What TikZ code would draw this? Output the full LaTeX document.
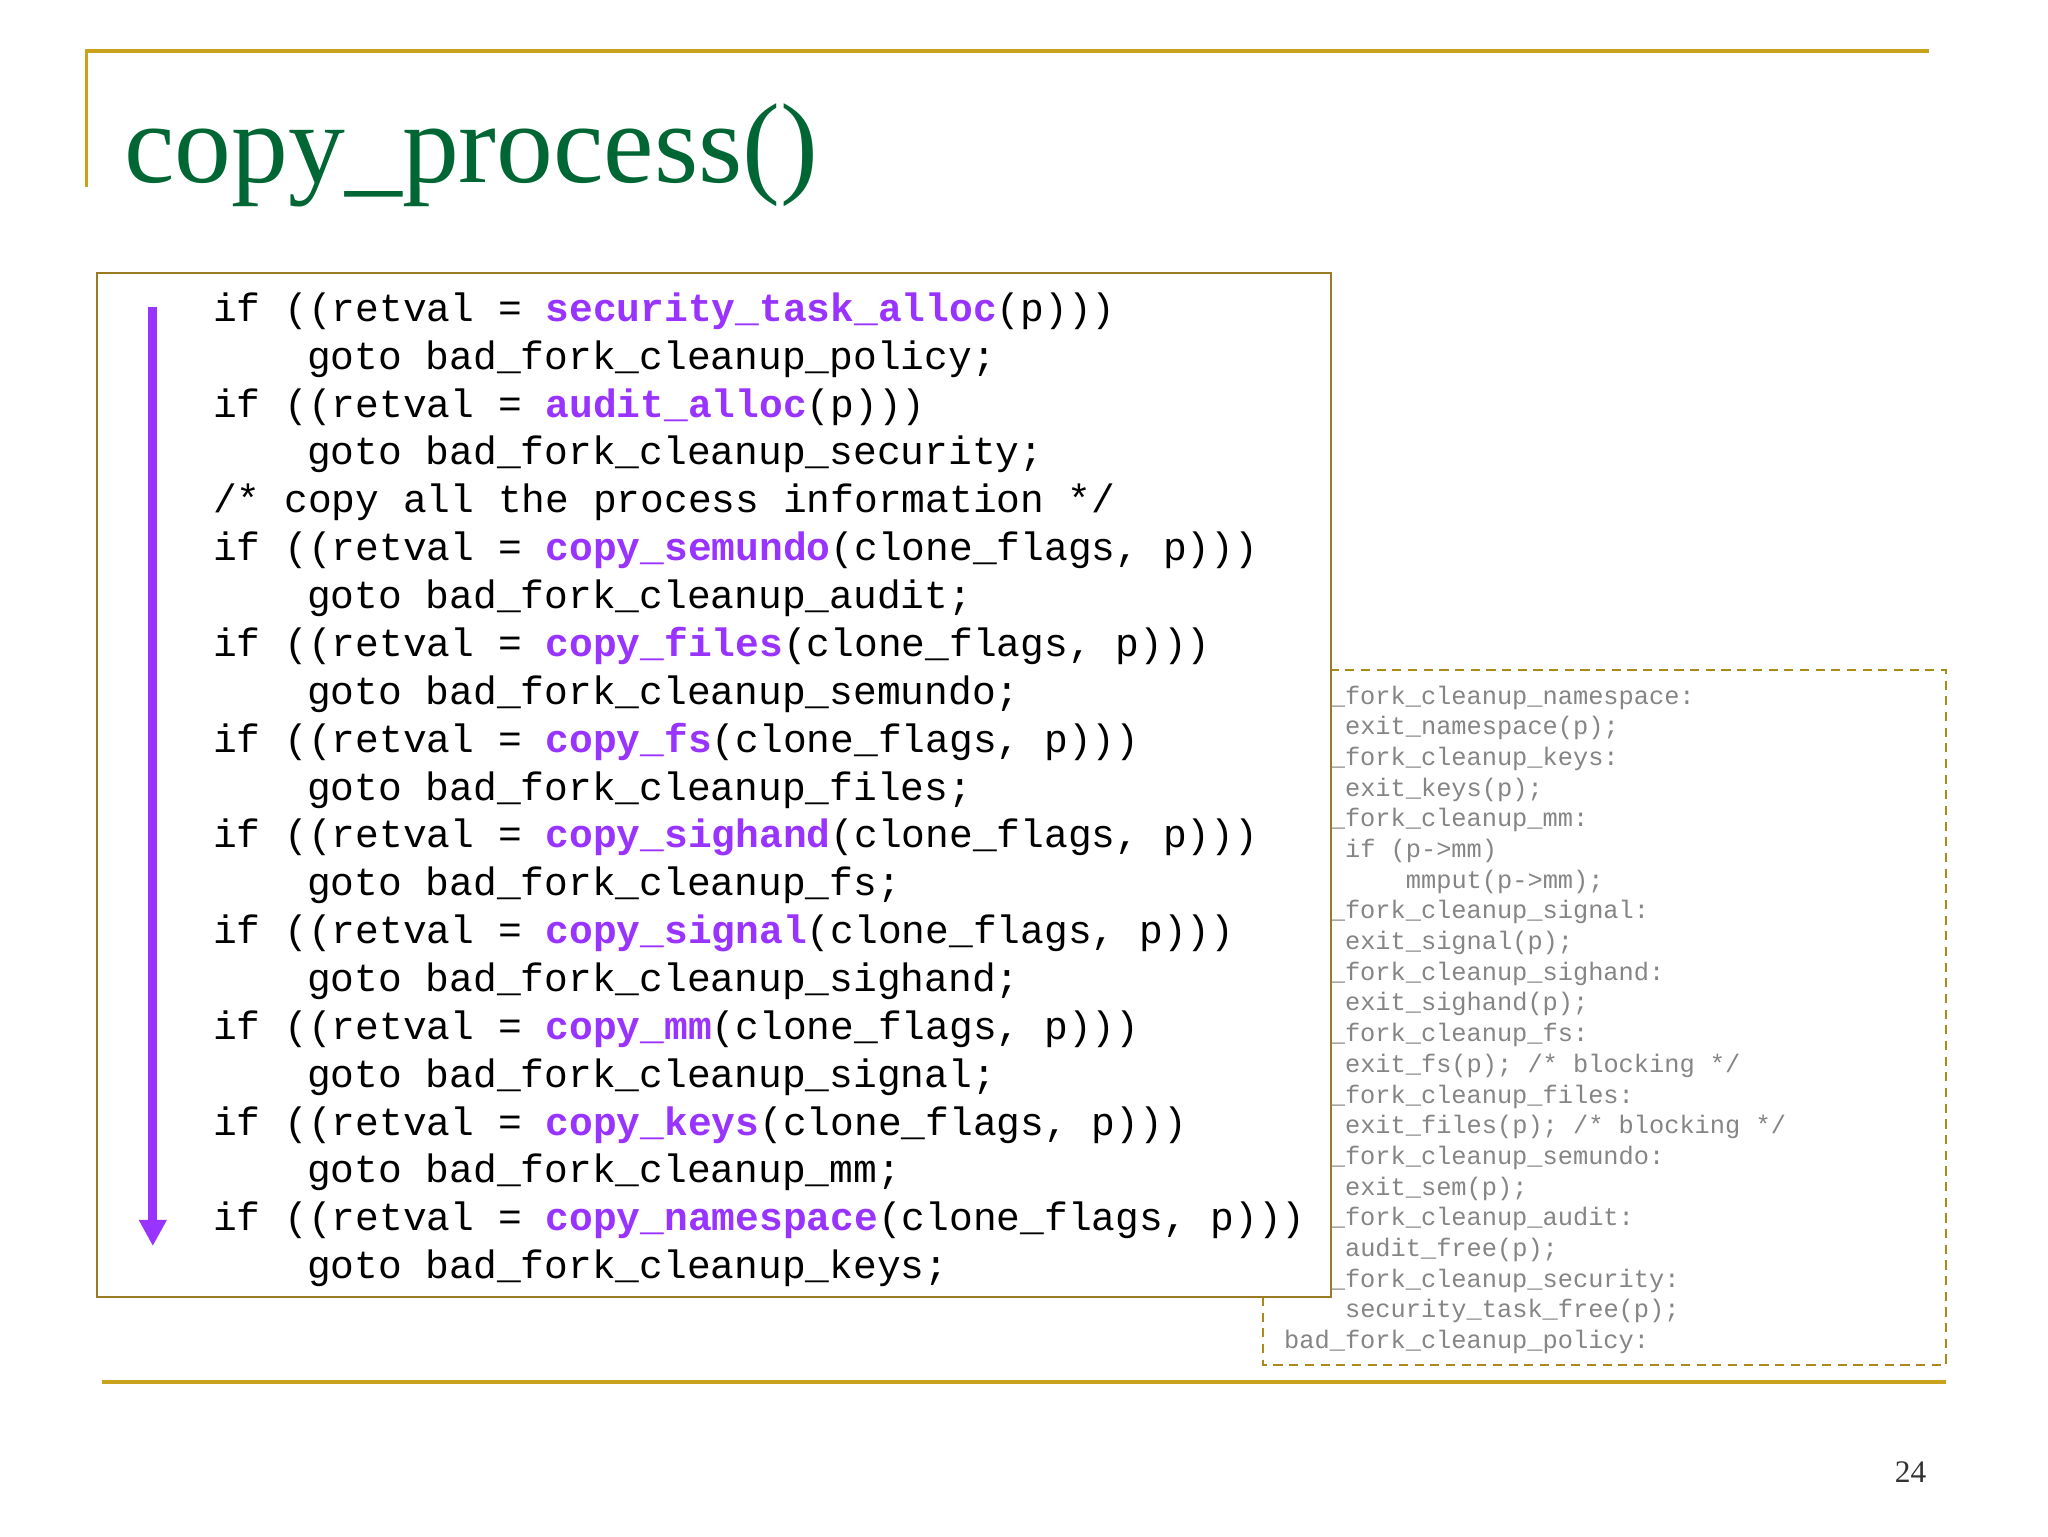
\documentclass[tikz,border=0pt]{standalone}
\usepackage{fontspec}
\setmainfont{Liberation Serif}
\setmonofont{Liberation Mono}
\usetikzlibrary{arrows.meta}
\definecolor{gold}{HTML}{C9A21E}
\definecolor{boxbrown}{HTML}{9C7A22}
\definecolor{titlegreen}{HTML}{006633}
\definecolor{fnc}{HTML}{9933FF}
\definecolor{greytxt}{HTML}{858585}
\newcommand\fn[1]{\textcolor{fnc}{\textbf{#1}}}
\tikzset{
  code/.style={anchor=base west,inner sep=0pt,font=\fontsize{30.3}{30.3}\ttfamily},
  small/.style={anchor=base west,inner sep=0pt,text=greytxt,font=\fontsize{19.4}{19.4}\ttfamily},
}
\begin{document}
\begin{tikzpicture}[x=1pt,y=-1pt]
\useasboundingbox (0,0) rectangle (1568,1176);
% frame lines
\draw[gold,line width=2.5pt] (66,143) -- (66,39) -- (1477,39);
\draw[gold,line width=3.5pt] (78,1058) -- (1490,1058);
\node[anchor=base west,inner sep=0pt,text=titlegreen,font=\fontsize{87}{87}\selectfont] (title) at (95,140) {copy\_process()};
\node[anchor=base east,inner sep=0pt,font=\fontsize{24}{24}\selectfont,text=black!80] (pg) at (1475,1135) {24};
% dashed cleanup box
\draw[gold!85!black,line width=1.5pt,dash pattern=on 7pt off 5pt] (967,513) rectangle (1490,1045);
\foreach \ind/\t [count=\i from 0] in {
 0/{bad\_fork\_cleanup\_namespace:},1/{exit\_namespace(p);},
 0/{bad\_fork\_cleanup\_keys:},1/{exit\_keys(p);},
 0/{bad\_fork\_cleanup\_mm:},1/{if (p->mm)},2/{mmput(p->mm);},
 0/{bad\_fork\_cleanup\_signal:},1/{exit\_signal(p);},
 0/{bad\_fork\_cleanup\_sighand:},1/{exit\_sighand(p);},
 0/{bad\_fork\_cleanup\_fs:},1/{exit\_fs(p); /* blocking */},
 0/{bad\_fork\_cleanup\_files:},1/{exit\_files(p); /* blocking */},
 0/{bad\_fork\_cleanup\_semundo:},1/{exit\_sem(p);},
 0/{bad\_fork\_cleanup\_audit:},1/{audit\_free(p);},
 0/{bad\_fork\_cleanup\_security:},1/{security\_task\_free(p);},
 0/{bad\_fork\_cleanup\_policy:}}
 { \node[small] (r\i) at ({983+46.6*\ind},{539+23.5*\i}) {\t}; }
% main code box
\draw[boxbrown,line width=1.3pt,fill=white] (74,209) rectangle (1019,993);
\coordinate (as) at (117,235);
\coordinate (ae) at (117,954);
\draw[fnc,line width=7pt,-{Triangle[length=20pt,width=20pt]}] (as) -- (ae);
\def\lh{36.65}
\node[code] (c0) at (163,{246+\lh*0}) {if ((retval = \fn{security\_task\_alloc}(p)))};
\node[code] (c1) at (235,{246+\lh*1}) {goto bad\_fork\_cleanup\_policy;};
\node[code] (c2) at (163,{246+\lh*2}) {if ((retval = \fn{audit\_alloc}(p)))};
\node[code] (c3) at (235,{246+\lh*3}) {goto bad\_fork\_cleanup\_security;};
\node[code] (c4) at (163,{246+\lh*4}) {/* copy all the process information */};
\node[code] (c5) at (163,{246+\lh*5}) {if ((retval = \fn{copy\_semundo}(clone\_flags, p)))};
\node[code] (c6) at (235,{246+\lh*6}) {goto bad\_fork\_cleanup\_audit;};
\node[code] (c7) at (163,{246+\lh*7}) {if ((retval = \fn{copy\_files}(clone\_flags, p)))};
\node[code] (c8) at (235,{246+\lh*8}) {goto bad\_fork\_cleanup\_semundo;};
\node[code] (c9) at (163,{246+\lh*9}) {if ((retval = \fn{copy\_fs}(clone\_flags, p)))};
\node[code] (c10) at (235,{246+\lh*10}) {goto bad\_fork\_cleanup\_files;};
\node[code] (c11) at (163,{246+\lh*11}) {if ((retval = \fn{copy\_sighand}(clone\_flags, p)))};
\node[code] (c12) at (235,{246+\lh*12}) {goto bad\_fork\_cleanup\_fs;};
\node[code] (c13) at (163,{246+\lh*13}) {if ((retval = \fn{copy\_signal}(clone\_flags, p)))};
\node[code] (c14) at (235,{246+\lh*14}) {goto bad\_fork\_cleanup\_sighand;};
\node[code] (c15) at (163,{246+\lh*15}) {if ((retval = \fn{copy\_mm}(clone\_flags, p)))};
\node[code] (c16) at (235,{246+\lh*16}) {goto bad\_fork\_cleanup\_signal;};
\node[code] (c17) at (163,{246+\lh*17}) {if ((retval = \fn{copy\_keys}(clone\_flags, p)))};
\node[code] (c18) at (235,{246+\lh*18}) {goto bad\_fork\_cleanup\_mm;};
\node[code] (c19) at (163,{246+\lh*19}) {if ((retval = \fn{copy\_namespace}(clone\_flags, p)))};
\node[code] (c20) at (235,{246+\lh*20}) {goto bad\_fork\_cleanup\_keys;};
\end{tikzpicture}
\end{document}
